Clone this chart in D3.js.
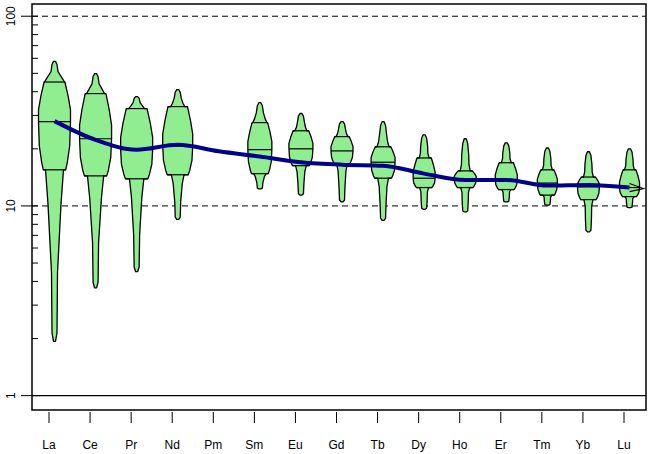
<!DOCTYPE html>
<html><head><meta charset="utf-8">
<script src="https://cdn.jsdelivr.net/npm/d3@7"></script>
<style>body{margin:0;background:#fff}svg{font-family:"Liberation Sans",Arial,sans-serif}</style>
</head><body><svg id="chart" width="649" height="454"></svg>
<script>
const elements = ['La','Ce','Pr','Nd','Pm','Sm','Eu','Gd','Tb','Dy','Ho','Er','Tm','Yb','Lu'];
// null for Pm (no data)
const maxV = [57.8,49.8,37.7,41,null,35,30.7,27.8,27.8,23.7,22.6,21.5,20.2,19.3,20];
const q3V  = [45,39.1,32.6,33.4,null,27.5,24.9,23.2,20.5,17.9,15.3,16.9,15.5,14.2,15.5];
const medV = [27.8,22.6,19.8,20.7,null,19.8,20,19.5,17,14,13.9,13.7,13.2,12.6,12.5];
const q1V  = [15.5,14.4,13.9,14.6,null,14.8,16.3,16.7,14,12.5,12.5,12.2,11.4,10.8,11.2];
const minV = [1.93,3.7,4.5,8.5,null,12.3,11.4,10.5,8.4,9.6,9.3,10.5,10.1,7.3,9.8];
const innerW = [16,16,16,15,null,12,12,11,12,11,11,11,10,11,10];
const outerW = [10,9,8,7,null,7,6,6,6,5,5,5,5,5,5];
const meanV = [28,22.3,19.8,21,19.4,18.2,17,16.5,16.3,14.8,13.7,13.7,12.8,12.9,12.5];

const svg = d3.select('#chart');
const left = 32, right = 646, plotTop = 4, bottom = 410;
const x = d3.scalePoint().domain(elements).range([49, 624]);
const y = d3.scaleLog().domain([0.84, 116]).range([bottom, plotTop]);
const shift = 5.5;

// reference lines
[100, 10].forEach(v => svg.append('line').attr('x1', left).attr('x2', right)
  .attr('y1', y(v)).attr('y2', y(v)).attr('stroke', '#000').attr('stroke-dasharray', '6,4'));
svg.append('line').attr('x1', left).attr('x2', right).attr('y1', y(1)).attr('y2', y(1)).attr('stroke', '#000').attr('stroke-width', 1.3);

// y axis
const ticks = [];
for (let d = 1; d <= 100; d *= 10) for (let k = 1; k < 10; k++) if (d * k <= 100) ticks.push(d * k);
svg.selectAll('.minor').data(ticks).enter().append('line')
  .attr('x1', left).attr('x2', left + 6).attr('y1', d => y(d)).attr('y2', d => y(d)).attr('stroke', '#000');
[1, 10, 100].forEach(v => {
  svg.append('line').attr('x1', left - 11).attr('x2', left).attr('y1', y(v)).attr('y2', y(v)).attr('stroke', '#000');
  svg.append('text').attr('transform', `translate(15,${y(v)}) rotate(-90)`).attr('text-anchor', 'middle')
    .attr('font-size', 12).text(v);
});
svg.append('rect').attr('x', left).attr('y', plotTop).attr('width', right - left).attr('height', bottom - plotTop)
  .attr('fill', 'none').attr('stroke', '#000').attr('stroke-width', 1.5);

// x axis
elements.forEach(e => {
  svg.append('line').attr('x1', x(e)).attr('x2', x(e)).attr('y1', bottom + 2).attr('y2', bottom + 13).attr('stroke', '#000');
  svg.append('text').attr('x', x(e)).attr('y', 449).attr('text-anchor', 'middle').attr('font-size', 12).text(e);
});

// shapes
const lg = v => Math.log10(v);
const mix = (a, b, t) => Math.pow(10, lg(a) + (lg(b) - lg(a)) * t);
elements.forEach((e, i) => {
  if (maxV[i] == null) return;
  const cx = x(e) + shift, wi = innerW[i], wo = outerW[i];
  const prof = [
    [maxV[i], 1], [mix(maxV[i], q3V[i], 0.15), 2.5], [mix(maxV[i], q3V[i], 0.5), 3.5],
    [mix(maxV[i], q3V[i], 0.8), wo * 0.75], [q3V[i], wo], [q3V[i], wi * 0.65],
    [mix(q3V[i], medV[i], 0.35), wi * 0.85], [mix(q3V[i], medV[i], 0.7), wi], [medV[i], wi],
    [mix(medV[i], q1V[i], 0.5), wi * 0.95], [mix(medV[i], q1V[i], 0.85), wi * 0.8],
    [q1V[i], wi * 0.7], [q1V[i], wo * 0.9], [mix(q1V[i], minV[i], 0.2), wo * 0.65],
    [mix(q1V[i], minV[i], 0.6), 3], [mix(q1V[i], minV[i], 0.95), 2.5], [minV[i], 1]
  ];
  const pts = prof.map(p => [cx + p[1], y(p[0])]).concat(prof.slice().reverse().map(p => [cx - p[1], y(p[0])]));
  svg.append('path').attr('d', d3.line()(pts) + 'Z').attr('fill', '#90ee90')
    .attr('stroke', '#000').attr('stroke-width', 1.3).attr('stroke-linejoin', 'round');
  [[q3V[i], wi * 0.65], [medV[i], wi], [q1V[i], wi * 0.7]].forEach(p =>
    svg.append('line').attr('x1', cx - p[1]).attr('x2', cx + p[1]).attr('y1', y(p[0])).attr('y2', y(p[0]))
      .attr('stroke', '#000').attr('stroke-width', 1.2));
});

// mean line
const meanPts = elements.map((e, i) => [x(e) + shift, y(meanV[i])]);
svg.append('path').attr('d', d3.line().curve(d3.curveMonotoneX)(meanPts))
  .attr('fill', 'none').attr('stroke', '#00008b').attr('stroke-width', 4);
const last = meanPts[meanPts.length - 1];
svg.append('path').attr('d', `M${last[0]},${last[1] - 4}L${last[0] + 14},${last[1] + 1}L${last[0]},${last[1] + 4}`)
  .attr('fill', 'none').attr('stroke', '#000').attr('stroke-width', 1.2);
</script></body></html>
